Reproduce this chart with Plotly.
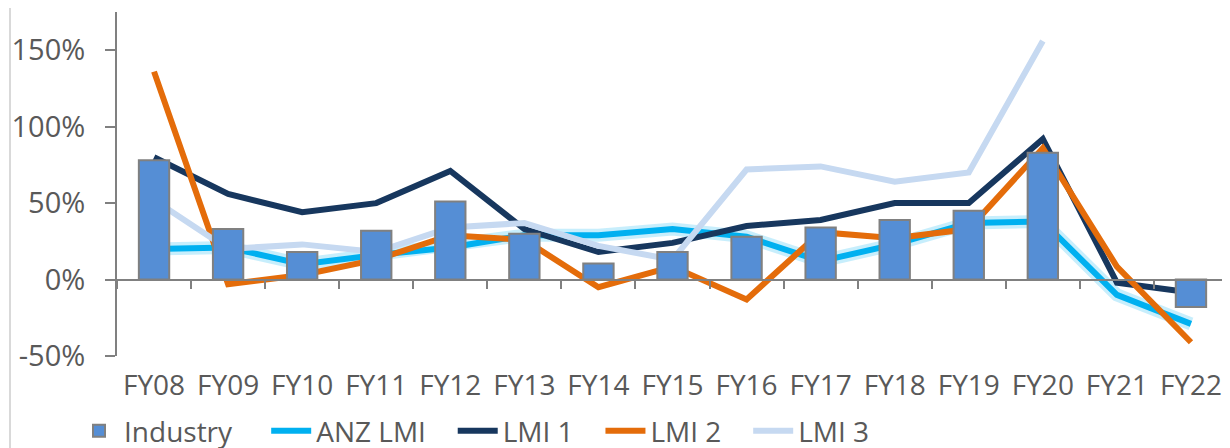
import plotly.graph_objects as go

years = ["FY08", "FY09", "FY10", "FY11", "FY12", "FY13", "FY14", "FY15",
         "FY16", "FY17", "FY18", "FY19", "FY20", "FY21", "FY22"]

industry = [78, 33, 18, 32, 51, 30, 10.5, 18, 28, 34, 39, 45, 83, None, -18]
anz_lmi = [20, 21, 10, 16, 21, 29, 29, 33, 28, 12, 23, 37, 38, -10, -29]
lmi_1 = [80, 56, 44, 50, 71, 33, 18, 24, 35, 39, 50, 50, 92, -2, -8.5]
lmi_2 = [136, -3, 3, 13, 29, 26, -5, 8.5, -13, 31, 27, 33, 86, 8.5, -41]
lmi_3 = [52, 20, 23, 18, 34, 37, 22, 13, 72, 74, 64, 70, 156, None, None]

y_ticks = [-50, 0, 50, 100, 150]

text_col = "#595959"
axis_col = "#808080"
font_family = "Open Sans"
nb = "\u00a0"  # used to widen the gaps between legend entries

fig = go.Figure()

fig.add_trace(go.Bar(
    x=years, y=industry, name="Industry" + nb * 4, xaxis="x2",
    marker=dict(color="#558ED5", line=dict(color=axis_col, width=2)),
    width=0.41
))

# soft glow under the ANZ LMI line
fig.add_trace(go.Scatter(
    x=years, y=anz_lmi, mode="lines", showlegend=False, hoverinfo="skip",
    line=dict(color="rgba(0,176,240,0.22)", width=13)
))
fig.add_trace(go.Scatter(
    x=years, y=anz_lmi, mode="lines", name="ANZ LMI" + nb * 3,
    line=dict(color="#00B0F0", width=6)
))
fig.add_trace(go.Scatter(
    x=years, y=lmi_1, mode="lines", name="LMI 1" + nb * 3,
    line=dict(color="#17375E", width=6)
))
fig.add_trace(go.Scatter(
    x=years, y=lmi_2, mode="lines", name="LMI 2" + nb * 3,
    line=dict(color="#E46C0A", width=6)
))
fig.add_trace(go.Scatter(
    x=years, y=lmi_3, mode="lines", name="LMI 3",
    line=dict(color="#C6D9F1", width=6)
))

y_lo, y_hi = -50, 175

fig.update_layout(
    width=1230, height=448,
    margin=dict(l=109, r=10, t=4, b=100, autoexpand=False),
    plot_bgcolor="white", paper_bgcolor="white",
    font=dict(family=font_family, size=28, color=text_col),
    showlegend=True,
    legend=dict(orientation="h", x=-0.0387, xanchor="left", y=-100 / 344, yanchor="bottom",
                font=dict(size=28, color=text_col), itemwidth=40,
                tracegroupgap=0),
    xaxis=dict(
        type="category", categoryorder="array", categoryarray=years,
        range=[-0.5, len(years) - 0.5],
        showline=False, showgrid=False, zeroline=False, ticks="",
        ticklabelstandoff=10,
        tickfont=dict(size=28, color=text_col),
    ),
    xaxis2=dict(
        type="category", categoryorder="array", categoryarray=years,
        range=[-0.5, len(years) - 0.5],
        overlaying="x", anchor="free", position=(0 - y_lo) / (y_hi - y_lo),
        showline=True, linecolor=axis_col, linewidth=2,
        ticks="outside", tickson="boundaries", ticklen=8, tickwidth=2, tickcolor=axis_col,
        showticklabels=False, showgrid=False, zeroline=False,
    ),
    yaxis=dict(
        range=[y_lo, y_hi], tickvals=y_ticks,
        ticktext=[f"{v}%" for v in y_ticks],
        showline=True, linecolor=axis_col, linewidth=2,
        ticks="outside", ticklen=10, tickwidth=2, tickcolor=axis_col,
        ticklabelstandoff=14,
        showgrid=False, zeroline=False,
        tickfont=dict(size=29, color=text_col),
    ),
    shapes=[dict(type="line", xref="paper", yref="paper",
                 x0=-0.0963, x1=-0.0963, y0=-0.35, y1=1.05,
                 line=dict(color="#D9D9D9", width=2))],
)

fig.write_html("out.html")
